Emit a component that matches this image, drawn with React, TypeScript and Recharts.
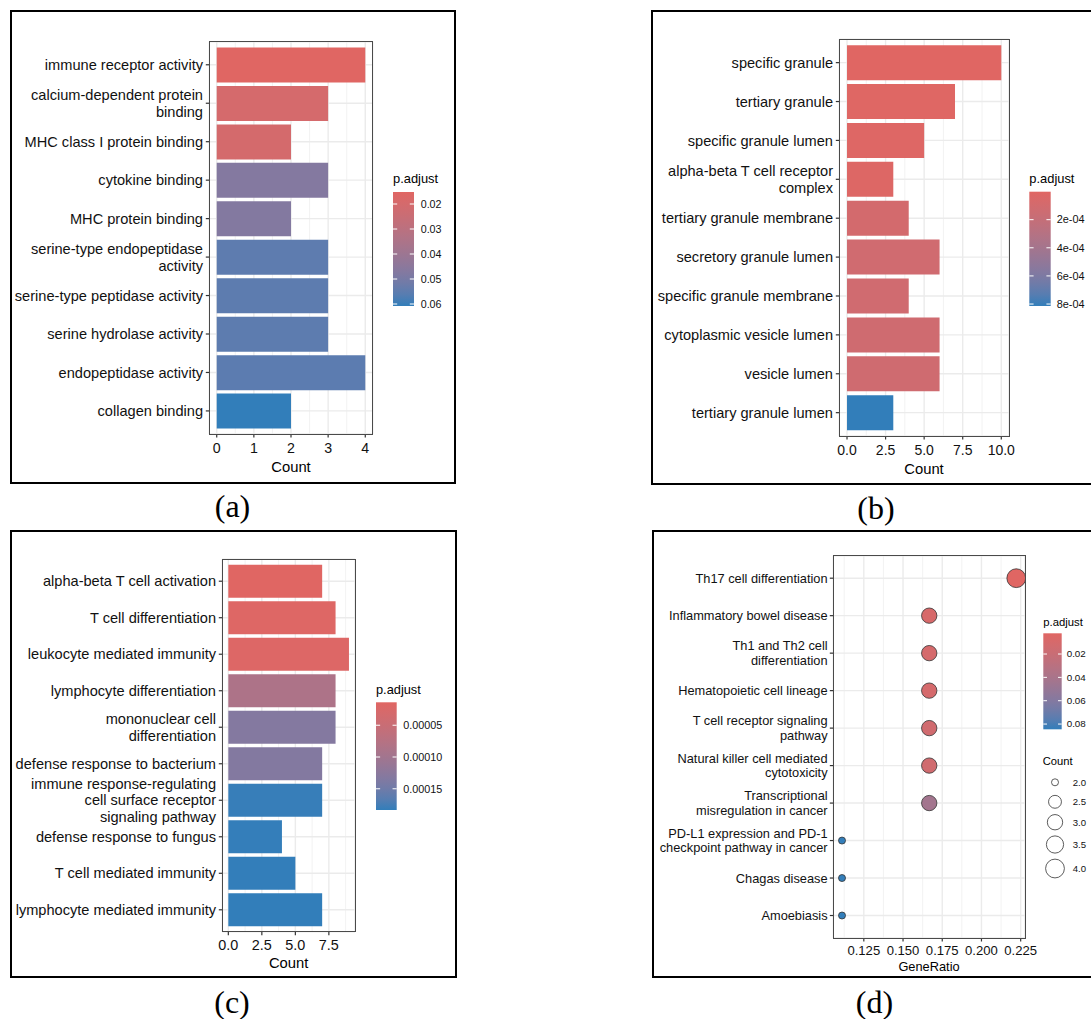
import React from 'react';
import { BarChart, Bar, XAxis, YAxis, CartesianGrid, Cell, ScatterChart, Scatter } from 'recharts';

const FONT = '"Liberation Sans", Arial, Helvetica, sans-serif';
const SERIF = '"Liberation Serif", "Times New Roman", serif';
const LOW = '#e06663';
const HIGH = '#327eba';
const INK = '#111';

// ---------- Panel (a) ----------
const aTerms = [
  'immune receptor activity',
  'calcium-dependent protein\nbinding',
  'MHC class I protein binding',
  'cytokine binding',
  'MHC protein binding',
  'serine-type endopeptidase\nactivity',
  'serine-type peptidase activity',
  'serine hydrolase activity',
  'endopeptidase activity',
  'collagen binding',
];
const aCounts = [4, 3, 2, 3, 2, 3, 3, 3, 4, 2];
const aPadj = [0.0152, 0.0198, 0.02, 0.0471, 0.0473, 0.0552, 0.0553, 0.0553, 0.0555, 0.0608];
const aTicks = [0, 1, 2, 3, 4];
const aMinor = [0.5, 1.5, 2.5, 3.5];
const aLegendTicks = [0.02, 0.03, 0.04, 0.05, 0.06];
const aLegendLabels = ['0.02', '0.03', '0.04', '0.05', '0.06'];

// ---------- Panel (b) ----------
const bTerms = [
  'specific granule',
  'tertiary granule',
  'specific granule lumen',
  'alpha-beta T cell receptor\ncomplex',
  'tertiary granule membrane',
  'secretory granule lumen',
  'specific granule membrane',
  'cytoplasmic vesicle lumen',
  'vesicle lumen',
  'tertiary granule lumen',
];
const bCounts = [10, 7, 5, 3, 4, 6, 4, 6, 6, 3];
const bPadj = [0.000001, 0.000012, 0.000018, 0.000022, 0.000095, 0.00012, 0.000122, 0.000125, 0.000125, 0.000814];
const bTicks = [0, 2.5, 5, 7.5, 10];
const bMinor = [1.25, 3.75, 6.25, 8.75];
const bLegendTicks = [0.0002, 0.0004, 0.0006, 0.0008];
const bLegendLabels = ['2e-04', '4e-04', '6e-04', '8e-04'];

// ---------- Panel (c) ----------
const cTerms = [
  'alpha-beta T cell activation',
  'T cell differentiation',
  'leukocyte mediated immunity',
  'lymphocyte differentiation',
  'mononuclear cell\ndifferentiation',
  'defense response to bacterium',
  'immune response-regulating\ncell surface receptor\nsignaling pathway',
  'defense response to fungus',
  'T cell mediated immunity',
  'lymphocyte mediated immunity',
];
const cCounts = [7, 8, 9, 8, 8, 7, 7, 4, 5, 7];
const cPadj = [0.0000139, 0.0000173, 0.000019, 0.0000868, 0.0001325, 0.000133, 0.0001817, 0.0001826, 0.000183, 0.0001834];
const cTicks = [0, 2.5, 5, 7.5];
const cMinor = [1.25, 3.75, 6.25, 8.75];
const cLegendTicks = [0.00005, 0.0001, 0.00015];
const cLegendLabels = ['0.00005', '0.00010', '0.00015'];

// ---------- Panel (d) ----------
const dTerms = [
  'Th17 cell differentiation',
  'Inflammatory bowel disease',
  'Th1 and Th2 cell\ndifferentiation',
  'Hematopoietic cell lineage',
  'T cell receptor signaling\npathway',
  'Natural killer cell mediated\ncytotoxicity',
  'Transcriptional\nmisregulation in cancer',
  'PD-L1 expression and PD-1\ncheckpoint pathway in cancer',
  'Chagas disease',
  'Amoebiasis',
];
const dGeneRatio = [0.2222, 0.1667, 0.1667, 0.1667, 0.1667, 0.1667, 0.1667, 0.1111, 0.1111, 0.1111];
const dCounts = [4, 3, 3, 3, 3, 3, 3, 2, 2, 2];
const dPadj = [0.00225, 0.0088, 0.0105, 0.0106, 0.0138, 0.014, 0.0434, 0.0843, 0.0844, 0.0845];
const dTicks = [0.125, 0.15, 0.175, 0.2, 0.225];
const dMinor = [0.1125, 0.1375, 0.1625, 0.1875, 0.2125];
const dLegendTicks = [0.02, 0.04, 0.06, 0.08];
const dLegendLabels = ['0.02', '0.04', '0.06', '0.08'];
const dSizeTicks = [2.0, 2.5, 3.0, 3.5, 4.0];
const dSizeLabels = ['2.0', '2.5', '3.0', '3.5', '4.0'];

// ---------- colour helpers (CIELAB interpolation like ggplot2) ----------
const hexToRgb = (hex: string) => {
  const n = parseInt(hex.slice(1), 16);
  return [(n >> 16) & 255, (n >> 8) & 255, n & 255];
};
const toLin = (c: number) => {
  const v = c / 255;
  return v <= 0.04045 ? v / 12.92 : Math.pow((v + 0.055) / 1.055, 2.4);
};
const fromLin = (v: number) => {
  const c = v <= 0.0031308 ? 12.92 * v : 1.055 * Math.pow(Math.max(v, 0), 1 / 2.4) - 0.055;
  return Math.round(Math.max(0, Math.min(1, c)) * 255);
};
const Xn = 0.95047, Yn = 1, Zn = 1.08883;
const fLab = (t: number) => (t > 216 / 24389 ? Math.cbrt(t) : (24389 / 27 * t + 16) / 116);
const fInv = (t: number) => (t > 6 / 29 ? t * t * t : 3 * (6 / 29) * (6 / 29) * (t - 4 / 29));
const rgbToLab = (rgb: number[]) => {
  const R = toLin(rgb[0]), G = toLin(rgb[1]), B = toLin(rgb[2]);
  const X = 0.4124564 * R + 0.3575761 * G + 0.1804375 * B;
  const Y = 0.2126729 * R + 0.7151522 * G + 0.072175 * B;
  const Z = 0.0193339 * R + 0.119192 * G + 0.9503041 * B;
  const fx = fLab(X / Xn), fy = fLab(Y / Yn), fz = fLab(Z / Zn);
  return [116 * fy - 16, 500 * (fx - fy), 200 * (fy - fz)];
};
const labToHex = (lab: number[]) => {
  const fy = (lab[0] + 16) / 116, fx = fy + lab[1] / 500, fz = fy - lab[2] / 200;
  const X = Xn * fInv(fx), Y = Yn * fInv(fy), Z = Zn * fInv(fz);
  const R = 3.2404542 * X - 1.5371385 * Y - 0.4985314 * Z;
  const G = -0.969266 * X + 1.8760108 * Y + 0.041556 * Z;
  const B = 0.0556434 * X - 0.2040259 * Y + 1.0572252 * Z;
  return '#' + [R, G, B].map((v) => fromLin(v).toString(16).padStart(2, '0')).join('');
};
const LAB_LOW = rgbToLab(hexToRgb(LOW));
const LAB_HIGH = rgbToLab(hexToRgb(HIGH));
const colorAt = (t: number) => {
  const u = Math.max(0, Math.min(1, t));
  return labToHex([0, 1, 2].map((i) => LAB_LOW[i] + (LAB_HIGH[i] - LAB_LOW[i]) * u));
};

const expand = (lo: number, hi: number): [number, number] => {
  const r = hi - lo;
  return [lo - 0.05 * r, hi + 0.05 * r];
};

const renderTick = (p: any, fs: number, lh: number) => {
  const { x, y, payload } = p;
  const lines = String(payload.value).split('\n');
  const off = (-(lines.length - 1) / 2) * lh;
  return (
    <text x={x} y={y} textAnchor="end" fontSize={fs} fontFamily={FONT} fill={INK}>
      {lines.map((l, i) => (
        <tspan key={i} x={x} y={y + off + i * lh} dy="0.35em">
          {l}
        </tspan>
      ))}
    </text>
  );
};

type Geo = { L: number; T: number; W: number; H: number; px0: number; px1: number; py0: number; py1: number };

const PanelFrame = ({ g }: { g: Geo }) => (
  <div
    style={{
      position: 'absolute',
      left: g.px0 - 0.7,
      top: g.py0 - 0.7,
      width: g.px1 - g.px0 + 1.4,
      height: g.py1 - g.py0 + 1.4,
      border: '1.4px solid #4a4a4a',
      boxSizing: 'border-box',
      pointerEvents: 'none',
    }}
  />
);

function BarPanel(props: {
  terms: string[]; counts: number[]; padj: number[]; g: Geo; ticks: number[]; minor: number[];
  fmt: (v: number) => string; tickFont: number; tickMargin: number; labelFont: number; lineH: number;
}) {
  const { terms, counts, padj, g, ticks, minor, fmt, tickFont, tickMargin, labelFont, lineH } = props;
  const data = terms.map((name, i) => ({ name, count: counts[i], p: padj[i] }));
  const mn = Math.min(...padj), mx = Math.max(...padj);
  const unit = (g.py1 - g.py0) / (terms.length + 0.2);
  const pad = unit * 0.1;
  const domain = expand(0, Math.max(...counts));
  return (
    <div style={{ position: 'absolute', left: g.L, top: g.T }}>
      <BarChart
        width={g.W}
        height={g.H}
        data={data}
        layout="vertical"
        margin={{ top: g.py0 - g.T, right: g.L + g.W - g.px1, left: 0, bottom: 0 }}
        barCategoryGap="5%"
      >
        <CartesianGrid horizontal={false} verticalValues={minor} stroke="#EFEFEF" strokeWidth={0.8} />
        <CartesianGrid stroke="#EBEBEB" strokeWidth={1.4} />
        <XAxis
          type="number"
          dataKey="count"
          domain={domain}
          ticks={ticks}
          interval={0}
          allowDataOverflow
          height={g.T + g.H - g.py1}
          tickSize={3.5}
          tickMargin={tickMargin}
          axisLine={false}
          tickLine={{ stroke: '#333', strokeWidth: 1.2 }}
          tick={{ fontSize: tickFont, fill: INK, fontFamily: FONT }}
          tickFormatter={fmt}
        />
        <YAxis
          type="category"
          dataKey="name"
          width={g.px0 - g.L}
          padding={{ top: pad, bottom: pad }}
          interval={0}
          tickSize={3.5}
          tickMargin={2.8}
          axisLine={false}
          tickLine={{ stroke: '#333', strokeWidth: 1.2 }}
          tick={(p: any) => renderTick(p, labelFont, lineH)}
        />
        <Bar dataKey="count" isAnimationActive={false}>
          {data.map((d, i) => (
            <Cell key={i} fill={colorAt((d.p - mn) / (mx - mn))} />
          ))}
        </Bar>
      </BarChart>
      <div style={{ position: 'absolute', left: -g.L, top: -g.T }}>
        <PanelFrame g={g} />
      </div>
    </div>
  );
}

const dSizeDomain = [Math.min(...dCounts), Math.max(...dCounts)];
const dotDiameter = (c: number) => 7 + 11.8 * Math.sqrt((c - dSizeDomain[0]) / (dSizeDomain[1] - dSizeDomain[0]));

function DotPanel({ g }: { g: Geo }) {
  const data = dTerms.map((name, i) => ({ name, ratio: dGeneRatio[i], count: dCounts[i], p: dPadj[i] }));
  const mn = Math.min(...dPadj), mx = Math.max(...dPadj);
  const unit = (g.py1 - g.py0) / (dTerms.length + 0.2);
  const pad = unit * 0.1;
  const domain = expand(Math.min(...dGeneRatio), Math.max(...dGeneRatio));
  const shape = (p: any) => (
    <circle
      cx={p.cx}
      cy={p.cy}
      r={dotDiameter(p.payload.count) / 2}
      fill={colorAt((p.payload.p - mn) / (mx - mn))}
      stroke="#333"
      strokeWidth={0.8}
    />
  );
  return (
    <div style={{ position: 'absolute', left: g.L, top: g.T }}>
      <ScatterChart
        width={g.W}
        height={g.H}
        margin={{ top: g.py0 - g.T, right: g.L + g.W - g.px1, left: 0, bottom: 0 }}
      >
        <CartesianGrid horizontal={false} verticalValues={dMinor} stroke="#EFEFEF" strokeWidth={0.8} />
        <CartesianGrid stroke="#EBEBEB" strokeWidth={1.4} />
        <XAxis
          type="number"
          dataKey="ratio"
          domain={domain}
          ticks={dTicks}
          interval={0}
          allowDataOverflow
          height={g.T + g.H - g.py1}
          tickSize={3.5}
          tickMargin={4.4}
          axisLine={false}
          tickLine={{ stroke: '#333', strokeWidth: 1.2 }}
          tick={{ fontSize: 13.1, fill: INK, fontFamily: FONT }}
          tickFormatter={(v: number) => v.toFixed(3)}
        />
        <YAxis
          type="category"
          dataKey="name"
          reversed
          width={g.px0 - g.L}
          padding={{ top: pad, bottom: pad }}
          interval={0}
          tickSize={3.5}
          tickMargin={2.2}
          axisLine={false}
          tickLine={{ stroke: '#333', strokeWidth: 1.2 }}
          tick={(p: any) => renderTick(p, 12.8, 14.3)}
        />
        <Scatter data={data} isAnimationActive={false} shape={shape} />
      </ScatterChart>
      <div style={{ position: 'absolute', left: -g.L, top: -g.T }}>
        <PanelFrame g={g} />
      </div>
    </div>
  );
}

function ColorBar(props: {
  id: string; x: number; y: number; w: number; h: number; padj: number[]; ticks: number[]; labels: string[];
  labelX: number; fs: number; titleY: number; titleFs: number;
}) {
  const { id, x, y, w, h, padj, ticks, labels, labelX, fs, titleY, titleFs } = props;
  const mn = Math.min(...padj), mx = Math.max(...padj);
  const stops = Array.from({ length: 11 }, (_, i) => i / 10);
  return (
    <g>
      <defs>
        <linearGradient id={id} x1="0" y1="0" x2="0" y2="1">
          {stops.map((s) => (
            <stop key={s} offset={s} stopColor={colorAt(s)} />
          ))}
        </linearGradient>
      </defs>
      <text x={x} y={titleY} fontSize={titleFs} fontFamily={FONT} fill="#000">p.adjust</text>
      <rect x={x} y={y} width={w} height={h} fill={`url(#${id})`} />
      {ticks.map((t, i) => {
        const ty = y + ((t - mn) / (mx - mn)) * h;
        return (
          <g key={i}>
            <line x1={x} x2={x + w / 5} y1={ty} y2={ty} stroke="#fff" strokeWidth={1} />
            <line x1={x + w - w / 5} x2={x + w} y1={ty} y2={ty} stroke="#fff" strokeWidth={1} />
            <text x={labelX} y={ty} dy="0.35em" fontSize={fs} fontFamily={FONT} fill={INK}>
              {labels[i]}
            </text>
          </g>
        );
      })}
    </g>
  );
}

function SizeLegend() {
  const cx = 1055;
  let cy = 782.3;
  const items: { y: number; d: number; label: string }[] = [];
  dSizeTicks.forEach((v, i) => {
    const d = dotDiameter(v);
    if (i > 0) {
      const prev = items[i - 1];
      cy += (Math.max(19.5, prev.d + 6) + Math.max(19.5, d + 6)) / 2;
    }
    items.push({ y: cy, d, label: dSizeLabels[i] });
  });
  return (
    <g>
      <text x={1042.7} y={765} fontSize={11.2} fontFamily={FONT} fill="#000">Count</text>
      {items.map((it, i) => (
        <g key={i}>
          <circle cx={cx} cy={it.y} r={it.d / 2} fill="#fff" stroke="#333" strokeWidth={0.8} />
          <text x={1072.7} y={it.y} dy="0.35em" fontSize={9.6} fontFamily={FONT} fill={INK}>
            {it.label}
          </text>
        </g>
      ))}
    </g>
  );
}

const gA: Geo = { L: 10, T: 10, W: 446, H: 474, px0: 209.3, px1: 372.7, py0: 41.7, py1: 434 };
const gB: Geo = { L: 651, T: 10, W: 440, H: 475, px0: 839.3, px1: 1009, py0: 39.3, py1: 436 };
const gC: Geo = { L: 10, T: 530, W: 447, H: 448, px0: 222.3, px1: 355, py0: 559.3, py1: 931.7 };
const gD: Geo = { L: 652, T: 530, W: 439, H: 448, px0: 833.3, px1: 1025, py0: 555.7, py1: 938 };

const Box = ({ l, t, w, h }: { l: number; t: number; w: number; h: number }) => (
  <div
    style={{
      position: 'absolute', left: l, top: t, width: w, height: h,
      border: '2px solid #000', boxSizing: 'border-box', pointerEvents: 'none',
    }}
  />
);

export default function App() {
  return (
    <div style={{ position: 'absolute', left: 0, top: 0, width: 1091, height: 1019, background: '#fff', overflow: 'hidden', fontFamily: FONT }}>
      <BarPanel terms={aTerms} counts={aCounts} padj={aPadj} g={gA} ticks={aTicks} minor={aMinor}
        fmt={(v) => String(v)} tickFont={14.2} tickMargin={5.6} labelFont={14.6} lineH={17} />
      <BarPanel terms={bTerms} counts={bCounts} padj={bPadj} g={gB} ticks={bTicks} minor={bMinor}
        fmt={(v) => v.toFixed(1)} tickFont={14} tickMargin={6} labelFont={14.6} lineH={17} />
      <BarPanel terms={cTerms} counts={cCounts} padj={cPadj} g={gC} ticks={cTicks} minor={cMinor}
        fmt={(v) => v.toFixed(1)} tickFont={14.4} tickMargin={4.3} labelFont={14.6} lineH={16.3} />
      <DotPanel g={gD} />

      <svg width={1091} height={1019} style={{ position: 'absolute', left: 0, top: 0, pointerEvents: 'none' }}>
        {/* axis titles */}
        <text x={291} y={467.3} dy="0.35em" textAnchor="middle" fontSize={14.8} fontFamily={FONT} fill="#000">Count</text>
        <text x={924} y={469.3} dy="0.35em" textAnchor="middle" fontSize={14.8} fontFamily={FONT} fill="#000">Count</text>
        <text x={288.7} y={962.7} dy="0.35em" textAnchor="middle" fontSize={14.8} fontFamily={FONT} fill="#000">Count</text>
        <text x={929} y={966.7} dy="0.35em" textAnchor="middle" fontSize={12.8} fontFamily={FONT} fill="#000">GeneRatio</text>

        {/* legends */}
        <ColorBar id="gA" x={393} y={192} w={21} h={114} padj={aPadj} ticks={aLegendTicks} labels={aLegendLabels}
          labelX={420.7} fs={10.7} titleY={183.3} titleFs={12.9} />
        <ColorBar id="gB" x={1029.3} y={191.7} w={21.4} h={114.3} padj={bPadj} ticks={bLegendTicks} labels={bLegendLabels}
          labelX={1056.7} fs={10.9} titleY={183} titleFs={12.9} />
        <ColorBar id="gC" x={376} y={702.3} w={20.7} h={107.7} padj={cPadj} ticks={cLegendTicks} labels={cLegendLabels}
          labelX={403.3} fs={10.8} titleY={693.5} titleFs={12.8} />
        <ColorBar id="gD" x={1043.3} y={633.3} w={18.4} h={96} padj={dPadj} ticks={dLegendTicks} labels={dLegendLabels}
          labelX={1066.7} fs={9.8} titleY={625.5} titleFs={11.3} />
        <SizeLegend />

        {/* captions */}
        <text x={232.5} y={517} textAnchor="middle" fontSize={32} fontFamily={SERIF} fill="#000">(a)</text>
        <text x={876} y={519} textAnchor="middle" fontSize={32} fontFamily={SERIF} fill="#000">(b)</text>
        <text x={232} y={1012.5} textAnchor="middle" fontSize={32} fontFamily={SERIF} fill="#000">(c)</text>
        <text x={874.5} y={1012.5} textAnchor="middle" fontSize={32} fontFamily={SERIF} fill="#000">(d)</text>
      </svg>

      <Box l={10} t={10} w={446} h={474} />
      <Box l={651} t={10} w={445} h={475} />
      <Box l={10} t={530} w={447} h={448} />
      <Box l={652} t={530} w={445} h={448} />
    </div>
  );
}
